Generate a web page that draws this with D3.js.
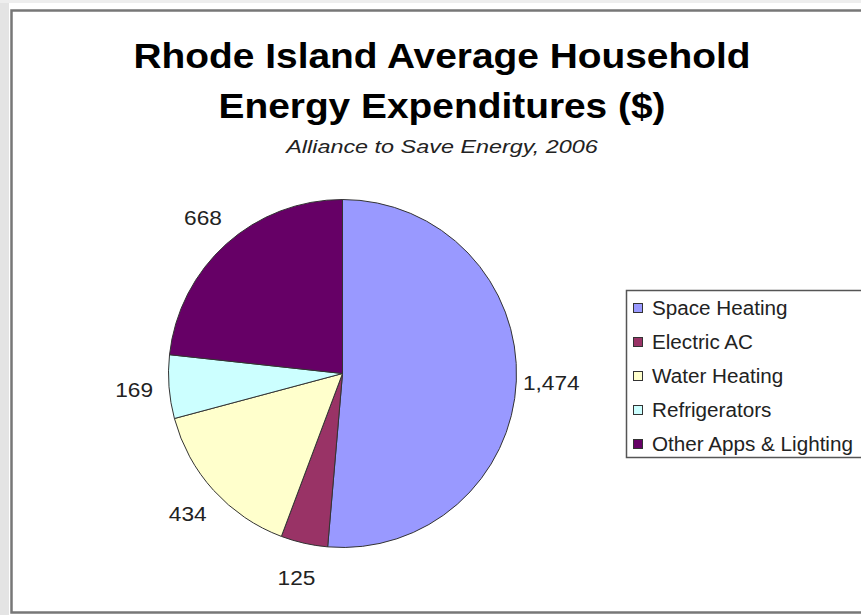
<!DOCTYPE html>
<html><head><meta charset="utf-8">
<script src="https://cdn.jsdelivr.net/npm/d3@7/dist/d3.min.js"></script>
<style>html,body{margin:0;padding:0;background:#fff;overflow:hidden}</style>
</head><body>
<svg id="c" width="861" height="615"></svg>
<script>
const categories = ["Space Heating", "Electric AC", "Water Heating", "Refrigerators", "Other Apps & Lighting"];
const values = [1474, 125, 434, 169, 668];
const colors = ["#9999FF", "#993366", "#FFFFCC", "#CCFFFF", "#660066"];
const titleLines = ["Rhode Island Average Household", "Energy Expenditures ($)"];
const subtitle = "Alliance to Save Energy, 2006";

const svg = d3.select("#c");
const font = "Arial, 'Liberation Sans', sans-serif";

// outer frame
svg.append("rect").attr("x",0).attr("y",0).attr("width",861).attr("height",615).attr("fill","#fff");
svg.append("rect").attr("x",0).attr("y",0).attr("width",9).attr("height",615).attr("fill","#e4e4e4");
svg.append("rect").attr("x",0).attr("y",0).attr("width",861).attr("height",3).attr("fill","#eeeeee");
svg.append("rect").attr("x",11.5).attr("y",10.5).attr("width",870).attr("height",602)
  .attr("fill","#fff").attr("stroke","#777").attr("stroke-width",2.5);

// titles (slightly stretched horizontally like the reference)
const t = svg.append("g").attr("font-family",font).attr("text-anchor","middle").attr("fill","#000");
t.selectAll("text.tl").data(titleLines).join("text").attr("class","tl")
  .attr("transform",(d,i)=>`translate(442,${68+i*50}) scale(1.08,1)`)
  .attr("font-size",36).attr("font-weight","bold").text(d=>d);
t.append("text").attr("transform","translate(442,153) scale(1.3,1)")
  .attr("font-size",18).attr("font-style","italic").attr("fill","#222").text(subtitle);

// pie
const cx = 342.5, cy = 373.5, r = 174;
const pie = d3.pie().sort(null).value(d=>d);
const arcs = pie(values);
const arc = d3.arc().innerRadius(0).outerRadius(r);
const labelArc = d3.arc().innerRadius(209).outerRadius(209);
const g = svg.append("g").attr("transform",`translate(${cx},${cy})`);
g.selectAll("path").data(arcs).join("path")
  .attr("d",arc).attr("fill",(d,i)=>colors[i]).attr("stroke","#333").attr("stroke-width",1);
g.selectAll("text").data(arcs).join("text")
  .attr("transform",d=>{const [x,y]=labelArc.centroid(d);return `translate(${x},${y}) scale(1.08,1)`;})
  .attr("text-anchor","middle").attr("dominant-baseline","central")
  .attr("font-family",font).attr("font-size",21).attr("fill","#222")
  .text(d=>d3.format(",")(d.data));

// legend
const lg = svg.append("g");
lg.append("rect").attr("x",626.5).attr("y",290.5).attr("width",260).attr("height",167)
  .attr("fill","#fff").attr("stroke","#555").attr("stroke-width",1.5);
const items = lg.selectAll("g.it").data(categories).join("g").attr("class","it")
  .attr("transform",(d,i)=>`translate(633,${308+i*34})`);
items.append("rect").attr("x",0.5).attr("y",-4.5).attr("width",9).attr("height",9)
  .attr("fill",(d,i)=>colors[i]).attr("stroke","#333").attr("stroke-width",1);
items.append("text").attr("transform","translate(19,0) scale(1.06,1)").attr("dominant-baseline","central")
  .attr("font-family",font).attr("font-size",19.5).attr("fill","#222").text(d=>d);
</script>
</body></html>
